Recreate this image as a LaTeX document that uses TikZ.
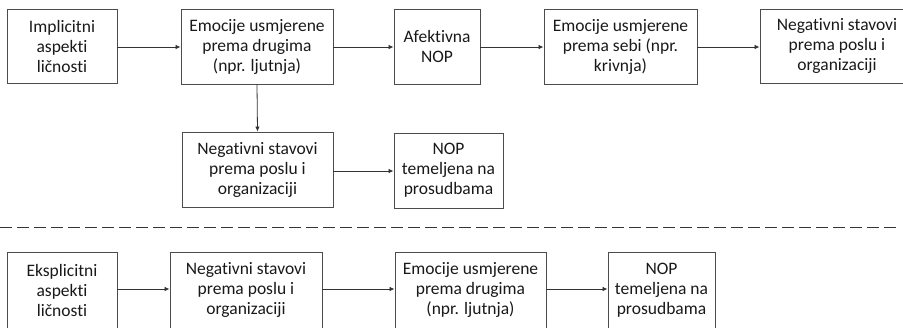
\documentclass[tikz,border=0pt]{standalone}
\usepackage{fontspec}
\setmainfont{Carlito}[Ligatures={NoCommon}]
\usetikzlibrary{arrows.meta}
\tikzset{
  box/.style={draw=black!70, line width=0.9pt, align=center, inner sep=0pt,
    text=black!90, font=\fontsize{17.5}{20}\selectfont},
  conn/.style={draw=black!80, line width=0.8pt, -{Latex[length=5pt,width=4.5pt]}},
}
\begin{document}
\begin{tikzpicture}[x=1pt,y=-1pt]
\useasboundingbox (0,0) rectangle (903,327);
\clip (0,0) rectangle (903,327);
% top row
\node[box, minimum width=110, minimum height=74] (b1) at (62,46) {Implicitni\\aspekti\\ličnosti};
\node[box, minimum width=152, minimum height=75] (b2) at (257,46.5) {Emocije usmjerene\\prema drugima\\(npr. ljutnja)};
\node[box, minimum width=86, minimum height=75] (b3) at (437,46.5) {Afektivna\\NOP};
\node[box, minimum width=153, minimum height=75] (b4) at (620.5,46.5) {Emocije usmjerene\\prema sebi (npr.\\krivnja)};
\node[box, minimum width=154, minimum height=74] (b5) at (837,46) {Negativni stavovi\\prema poslu i\\organizaciji};
% middle row
\node[box, minimum width=151, minimum height=75] (b6) at (257.5,169.5) {Negativni stavovi\\prema poslu i\\organizaciji};
\node[box, minimum width=109, minimum height=75] (b7) at (448.5,170.5) {NOP\\temeljena na\\prosudbama};
% dashed separator
\coordinate (dl) at (0,227);
\coordinate (dr) at (900,227);
\draw[black!80, line width=0.9pt, dash pattern=on 12pt off 5pt] (dl) -- (dr);
% bottom row
\node[box, minimum width=110, minimum height=76] (b8) at (62,290) {Eksplicitni\\aspekti\\ličnosti};
\node[box, minimum width=152, minimum height=76] (b9) at (246,290) {Negativni stavovi\\prema poslu i\\organizaciji};
\node[box, minimum width=151, minimum height=76] (b10) at (470.5,290) {Emocije usmjerene\\prema drugima\\(npr. ljutnja)};
\node[box, minimum width=107, minimum height=76] (b11) at (661.5,290) {NOP\\temeljena na\\prosudbama};
% connectors
\draw[conn] (b1.east |- 0,47) -- (b2.west |- 0,47);
\draw[conn] (b2.east |- 0,47) -- (b3.west |- 0,47);
\draw[conn] (b3.east |- 0,47) -- (b4.west |- 0,47);
\draw[conn] (b4.east |- 0,47) -- (b5.west |- 0,47);
\draw[conn] (b2.south) -- (b6.north);
\draw[conn] (b6.east |- 0,171) -- (b7.west |- 0,171);
\draw[conn] (b8.east |- 0,289) -- (b9.west |- 0,289);
\draw[conn] (b9.east |- 0,289) -- (b10.west |- 0,289);
\draw[conn] (b10.east |- 0,289) -- (b11.west |- 0,289);
\end{tikzpicture}
\end{document}
